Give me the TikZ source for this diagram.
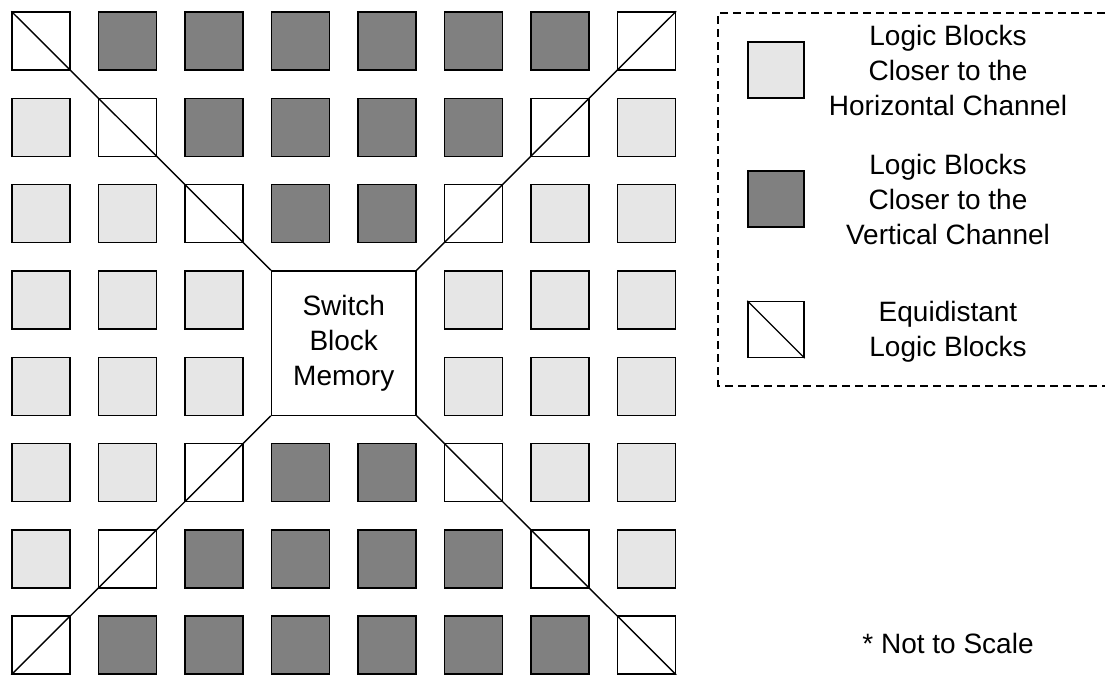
\documentclass[tikz,border=0pt]{standalone}
\usepackage{fontspec}
\setmainfont{Liberation Sans}
\usepackage{tikz}
\usetikzlibrary{positioning,calc}
\definecolor{horzC}{RGB}{230,230,230}
\definecolor{vertC}{RGB}{128,128,128}

\begin{document}
\begin{tikzpicture}[
  x=0.5pt, y=-0.5pt,
  font=\fontsize{14}{17.5}\selectfont,
  blk/.style={draw=black, line width=0.7pt, minimum size=29pt, inner sep=0pt},
  hblk/.style={blk, fill=horzC},
  vblk/.style={blk, fill=vertC},
  eblk/.style={blk, fill=white},
  lgblk/.style={minimum size=28pt},
  swb/.style={draw=black, line width=0.7pt, fill=white, inner sep=0pt,
              minimum width=72.25pt, minimum height=72.15pt, align=center},
  diag/.style={draw=black, line width=0.7pt},
  frame/.style={draw=black, line width=0.7pt, dash pattern=on 4pt off 2.5pt},
  lgtxt/.style={align=center},
]
\useasboundingbox (0,0) rectangle (1105,675);

% ============ helper coordinates ============
\def\gx{41}\def\gy{41}       % centre of the first block
\def\dx{86.5}\def\dy{86.3}   % block pitch
\def\lx{776}\def\tx{948}     % legend columns

% ===================== logic block array =====================
\foreach \kind [count=\c from 0] in {e,v,v,v,v,v,v,e}
  \node[\kind blk] (b0\c) at ({\gx+\dx*\c},{\gy+\dy*0}) {};
\foreach \kind [count=\c from 0] in {h,e,v,v,v,v,e,h}
  \node[\kind blk] (b1\c) at ({\gx+\dx*\c},{\gy+\dy*1}) {};
\foreach \kind [count=\c from 0] in {h,h,e,v,v,e,h,h}
  \node[\kind blk] (b2\c) at ({\gx+\dx*\c},{\gy+\dy*2}) {};
\foreach \c in {0,1,2,5,6,7}{
  \node[hblk] (b3\c) at ({\gx+\dx*\c},{\gy+\dy*3}) {};
  \node[hblk] (b4\c) at ({\gx+\dx*\c},{\gy+\dy*4}) {};
}
\foreach \kind [count=\c from 0] in {h,h,e,v,v,e,h,h}
  \node[\kind blk] (b5\c) at ({\gx+\dx*\c},{\gy+\dy*5}) {};
\foreach \kind [count=\c from 0] in {h,e,v,v,v,v,e,h}
  \node[\kind blk] (b6\c) at ({\gx+\dx*\c},{\gy+\dy*6}) {};
\foreach \kind [count=\c from 0] in {e,v,v,v,v,v,v,e}
  \node[\kind blk] (b7\c) at ({\gx+\dx*\c},{\gy+\dy*7}) {};

% ===================== switch block =====================
\node[swb] (sw) at ({\gx+\dx*3.5},{\gy+\dy*3.5}) {Switch\\Block\\Memory};

% diagonals: equidistant blocks
\draw[diag] (b00.north west) -- (sw.north west);
\draw[diag] (b07.north east) -- (sw.north east);
\draw[diag] (b70.south west) -- (sw.south west);
\draw[diag] (b77.south east) -- (sw.south east);

% ===================== legend =====================
\draw[frame] (1105,13) -- (718,13) -- (718,386) -- (1105,386);
\node[hblk, lgblk] (lg1) at (\lx,70) {};
\node[lgtxt] (lt1) at (\tx,70) {Logic Blocks\\Closer to the\\Horizontal Channel};
\node[vblk, lgblk] (lg2) at (\lx,199) {};
\node[lgtxt] (lt2) at (\tx,199) {Logic Blocks\\Closer to the\\Vertical Channel};
\node[eblk, lgblk] (lg3) at (\lx,329.5) {};
\draw[diag] (lg3.north west) -- (lg3.south east);
\node[lgtxt] (lt3) at (\tx,332) {Equidistant\\Logic Blocks};

\node (nts) at (\tx,643.5) {* Not to Scale};

\end{tikzpicture}
\end{document}
